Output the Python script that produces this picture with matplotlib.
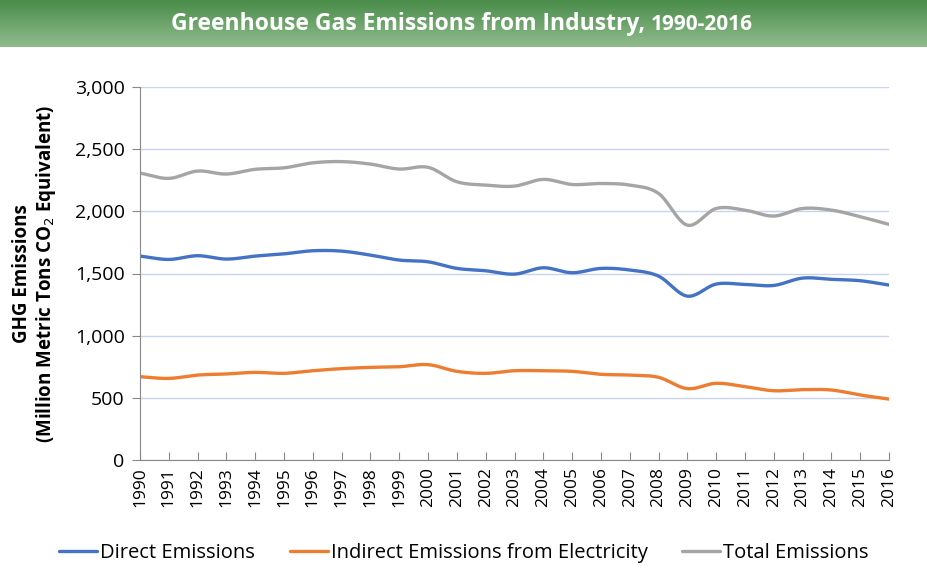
import numpy as np
import matplotlib
matplotlib.use("Agg")
import matplotlib.pyplot as plt
from matplotlib.ticker import FuncFormatter, MultipleLocator

# values (million metric tons CO2 eq.)
years = list(range(1990, 2017))
direct = [1640, 1613, 1643, 1616, 1640, 1658, 1683, 1680, 1648, 1608, 1594,
          1541, 1522, 1495, 1546, 1506, 1541, 1528, 1479, 1318, 1415, 1412,
          1404, 1463, 1453, 1442, 1407]
indirect = [670, 656, 683, 692, 705, 697, 718, 735, 745, 750, 767,
            713, 697, 718, 718, 713, 689, 683, 665, 574, 617, 590,
            557, 566, 563, 523, 490]
total = [2308, 2265, 2324, 2300, 2338, 2350, 2390, 2400, 2380, 2340, 2354,
         2238, 2211, 2203, 2257, 2216, 2224, 2211, 2144, 1889, 2023, 2010,
         1962, 2023, 2010, 1957, 1895]

series_names = ["Direct Emissions", "Indirect Emissions from Electricity", "Total Emissions"]
colors = ["#4472C4", "#ED7D31", "#A5A5A5"]


def smooth(x, y, n=20):
    # Catmull-Rom smoothing, like a spreadsheet "smoothed line"
    x = np.asarray(x, float)
    y = np.asarray(y, float)
    px = np.concatenate([[2 * x[0] - x[1]], x, [2 * x[-1] - x[-2]]])
    py = np.concatenate([[2 * y[0] - y[1]], y, [2 * y[-1] - y[-2]]])
    t = np.linspace(0, 1, n, endpoint=False)

    def seg(p0, p1, p2, p3):
        return 0.5 * ((2 * p1) + (-p0 + p2) * t + (2 * p0 - 5 * p1 + 4 * p2 - p3) * t ** 2
                      + (-p0 + 3 * p1 - 3 * p2 + p3) * t ** 3)

    xs, ys = [], []
    for i in range(1, len(px) - 2):
        xs.append(seg(*px[i - 1:i + 3]))
        ys.append(seg(*py[i - 1:i + 3]))
    xs.append([x[-1]])
    ys.append([y[-1]])
    return np.concatenate(xs), np.concatenate(ys)


plt.rcParams['font.family'] = ['Open Sans', 'DejaVu Sans']

fig = plt.figure(figsize=(9.28, 5.74), dpi=100)

# green gradient title bar
bar = fig.add_axes([0, 1 - 47 / 574, 1, 47 / 574])
grad = np.linspace(0, 1, 100).reshape(-1, 1)
top_c = np.array([0x4a, 0x8c, 0x4a]) / 255
bot_c = np.array([0x90, 0xbc, 0x8d]) / 255
img = top_c + (bot_c - top_c) * grad[:, :, None]
bar.imshow(img, aspect='auto', extent=[0, 1, 0, 1])
bar.set_axis_off()
split = 645 / 928
bar.text(split, 0.5, "Greenhouse Gas Emissions from Industry,", color='white',
         fontsize=16.5, fontweight='bold', ha='right', va='center',
         transform=bar.transAxes)
bar.text(split + 0.006, 0.47, "1990-2016", color='white', fontsize=15, fontweight='bold',
         ha='left', va='center', transform=bar.transAxes)

ax = fig.add_axes([140 / 928, 1 - 460 / 574, 749 / 928, 373 / 574])
for vals, name, c in zip([direct, indirect, total], series_names, colors):
    sx, sy = smooth(years, vals)
    ax.plot(sx, sy, color=c, lw=2.4, label=name, solid_capstyle='round')

ax.set_xlim(1990, 2016)
ax.set_ylim(0, 3000)
ax.yaxis.set_major_locator(MultipleLocator(500))
ax.yaxis.set_major_formatter(FuncFormatter(lambda v, p: f"{int(v):,}"))
ax.set_xticks(years)
ax.set_xticklabels([str(y) for y in years], rotation=90, fontsize=12.5)
ax.tick_params(axis='y', labelsize=14, length=6, color='#888888', pad=5)
ax.tick_params(axis='x', direction='in', length=6, color='#888888', pad=5)
ax.grid(axis='y', color='#c9d3ec', lw=1)
ax.set_axisbelow(True)
for s in ['top', 'right']:
    ax.spines[s].set_visible(False)
ax.spines['left'].set_color('#888888')
ax.spines['bottom'].set_color('#888888')

ax.set_ylabel("GHG Emissions\n(Million Metric Tons CO$_2$ Equivalent)",
              fontsize=13.5, fontweight='bold', labelpad=12, linespacing=1.15)

fig.legend(loc='center', bbox_to_anchor=(0.5, 1 - 553 / 574), ncol=3,
           frameon=False, fontsize=14.5, handlelength=1.9, columnspacing=1.7,
           handletextpad=0.15)

fig.savefig("out.png", dpi=100)
